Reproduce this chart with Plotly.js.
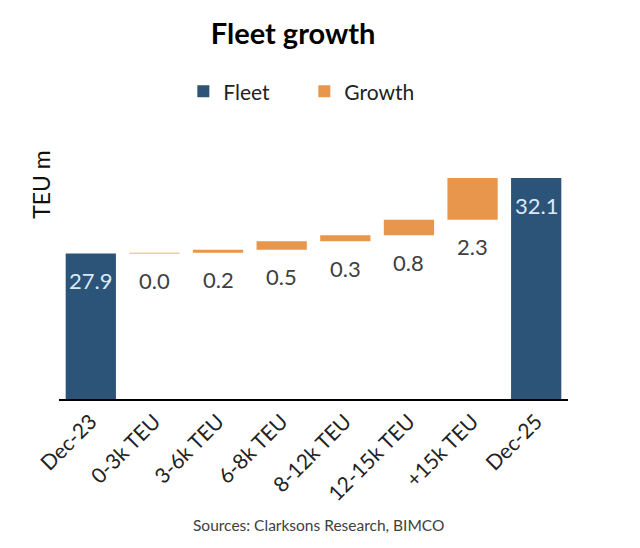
<!DOCTYPE html>
<html>
<head>
<meta charset="utf-8">
<script src="https://cdn.plot.ly/plotly-3.0.1.min.js"></script>
<style>html,body{margin:0;padding:0;background:#fff;}#chart{width:640px;height:548px;}</style>
</head>
<body>
<div id="chart"></div>
<script>
// Data
const categories = ["Dec-23", "0-3k TEU", "3-6k TEU", "6-8k TEU", "8-12k TEU", "12-15k TEU", "+15k TEU", "Dec-25"];
const fleetCategories = ["Dec-23", "Dec-25"];
const fleetValues = [27.94, 32.06];
const growthCategories = ["0-3k TEU", "3-6k TEU", "6-8k TEU", "8-12k TEU", "12-15k TEU", "+15k TEU"];
const growthValues = [0.04, 0.17, 0.46, 0.33, 0.84, 2.28];

// cumulative bases for the waterfall
const growthBases = [];
let running = fleetValues[0];
for (const v of growthValues) { growthBases.push(running); running += v; }

const FONT = "Lato, 'Open Sans', sans-serif";
const fleetColor = "#2B5478";
const growthColor = "#E8964B";

const traces = [
  {
    type: "bar", name: "Fleet", x: fleetCategories, y: fleetValues,
    marker: {color: fleetColor}, hoverinfo: "skip"
  },
  {
    type: "bar", name: "Growth", x: growthCategories, y: growthValues, base: growthBases,
    marker: {color: growthColor}, hoverinfo: "skip"
  }
];

const annotations = [];
fleetCategories.forEach((c, i) => {
  annotations.push({
    x: c, y: fleetValues[i], xref: "x", yref: "y", yshift: -27, yanchor: "middle",
    text: fleetValues[i].toFixed(1), showarrow: false,
    font: {family: FONT, size: 22, color: "#DCE9F5"}
  });
});
growthCategories.forEach((c, i) => {
  annotations.push({
    x: c, y: growthBases[i], xref: "x", yref: "y", yshift: -27, yanchor: "middle",
    text: growthValues[i].toFixed(1), showarrow: false,
    font: {family: FONT, size: 22, color: "#404040"}
  });
});
annotations.push({
  text: "TEU m", xref: "paper", yref: "paper", x: -0.037, y: 0.936,
  xanchor: "center", yanchor: "middle", textangle: -90, showarrow: false,
  font: {family: FONT, size: 23, color: "#111"}
});
annotations.push({
  text: "Sources: Clarksons Research, BIMCO", xref: "paper", yref: "paper", x: 0.509, y: -0.549,
  xanchor: "center", yanchor: "middle", showarrow: false,
  font: {family: FONT, size: 15.5, color: "#404040"}
});

const layout = {
  width: 640, height: 548,
  margin: {l: 59, r: 72, t: 170, b: 149, pad: 0},
  paper_bgcolor: "#fff", plot_bgcolor: "#fff",
  barmode: "overlay", bargap: 0.21,
  title: {
    text: "<b>Fleet growth</b>", xref: "container", yref: "container",
    x: 0.458, xanchor: "center", y: 0.938, yanchor: "middle",
    font: {family: FONT, size: 29, color: "#000"}
  },
  showlegend: true,
  legend: {
    orientation: "h", x: 0.482, xanchor: "center", y: 1.342, yanchor: "middle",
    font: {family: FONT, size: 21, color: "#222"}, entrywidth: 76, traceorder: "normal",
    itemwidth: 30
  },
  xaxis: {
    type: "category", categoryorder: "array", categoryarray: categories,
    range: [-0.5, 7.5], showline: true, linecolor: "#000", linewidth: 2,
    ticks: "", tickangle: -45, showgrid: false, zeroline: false,
    tickfont: {family: FONT, size: 21, color: "#222"}
  },
  yaxis: {
    range: [20, 32.5], showticklabels: false, showgrid: false, zeroline: false,
    showline: false, ticks: ""
  },
  annotations: annotations
};

Plotly.newPlot("chart", traces, layout, {displayModeBar: false, staticPlot: true});
</script>
</body>
</html>
